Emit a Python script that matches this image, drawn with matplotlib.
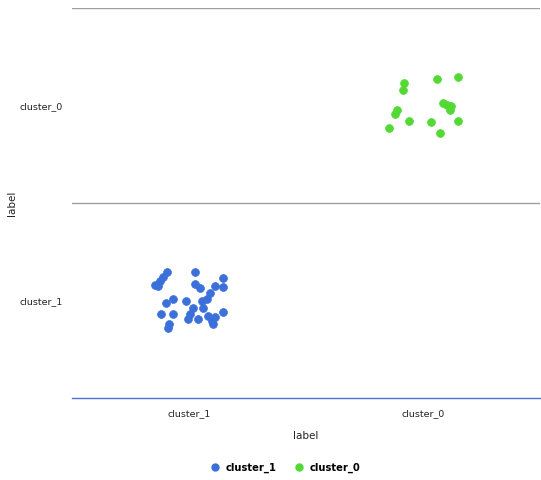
import matplotlib
matplotlib.use("Agg")
import matplotlib.pyplot as plt
from matplotlib.lines import Line2D

plt.rcParams['font.family'] = ['DejaVu Sans']

categories = ["cluster_1", "cluster_0"]
colors = {"cluster_1": "#3b6fd9", "cluster_0": "#52d934"}

# jitter offsets around the category centre (category units)
blue_dx = [-0.145, -0.132, -0.124, -0.111, -0.094, 0.026, 0.026, 0.047, 0.111, 0.145,
           0.145, 0.090, 0.077, 0.056, 0.060, -0.068, -0.098, -0.013, 0.017, 0.004,
           -0.004, -0.120, -0.068, -0.085, -0.090, 0.038, 0.081, 0.098, 0.103, 0.111, 0.145]
blue_dy = [0.077, 0.072, 0.098, 0.118, 0.144, 0.144, 0.087, 0.062, 0.072, 0.113,
           0.067, 0.036, 0.010, 0.000, -0.036, 0.010, -0.015, 0.000, -0.041, -0.067,
           -0.093, -0.067, -0.067, -0.118, -0.139, -0.093, -0.077, -0.103, -0.123, -0.087, -0.057]
green_dx = [-0.081, -0.085, 0.060, 0.150, 0.085, 0.103, 0.120, 0.115, -0.111, -0.120,
            -0.060, -0.145, 0.034, 0.073, 0.150]
green_dy = [0.113, 0.082, 0.134, 0.144, 0.015, 0.005, 0.000, -0.021, -0.021, -0.046,
            -0.082, -0.113, -0.087, -0.139, -0.082]

fig = plt.figure(figsize=(5.41, 4.80), dpi=100)
ax = fig.add_axes([72 / 541, 1 - 398 / 480, 468 / 541, 390 / 480])

series = [("cluster_1", blue_dx, blue_dy), ("cluster_0", green_dx, green_dy)]
for name, dx, dy in series:
    i = categories.index(name)
    ax.scatter([i + d for d in dx], [i + d for d in dy], s=32, color=colors[name],
               edgecolors=colors[name], linewidths=0.5, zorder=3)

ax.set_xlim(-0.5, 1.5)
ax.set_ylim(-0.5, 1.5)
ax.set_xticks([0, 1])
ax.set_xticklabels(categories, fontsize=6.8, color="#222222")
ax.set_yticks([0, 1])
ax.set_yticklabels(categories, fontsize=6.8, color="#222222")
ax.tick_params(axis="x", length=0, pad=8)
ax.tick_params(axis="y", length=0, pad=7)
for s in ["top", "right", "left"]:
    ax.spines[s].set_visible(False)
ax.spines["bottom"].set_color("#4a72d2")
ax.spines["bottom"].set_linewidth(1.0)
for yv in [0.5, 1.5]:
    ax.axhline(yv, color="#a0a0a0", linewidth=1.0, zorder=1)

ax.set_xlabel("label", fontsize=7.5, color="#222222")
ax.xaxis.set_label_coords(0.5, -0.085)
ax.set_ylabel("label", fontsize=7.5, color="#222222")
ax.yaxis.set_label_coords(-0.118, 0.5)

handles = [Line2D([], [], marker="o", linestyle="", markersize=5, color=colors[c]) for c in categories]
fig.legend(handles, categories, loc="center", bbox_to_anchor=(0.523, 1 - 468 / 480),
           ncol=2, frameon=False, handletextpad=0.1, columnspacing=1.2,
           prop={"weight": "bold", "size": 7.2})

fig.savefig("out.png", dpi=100)
